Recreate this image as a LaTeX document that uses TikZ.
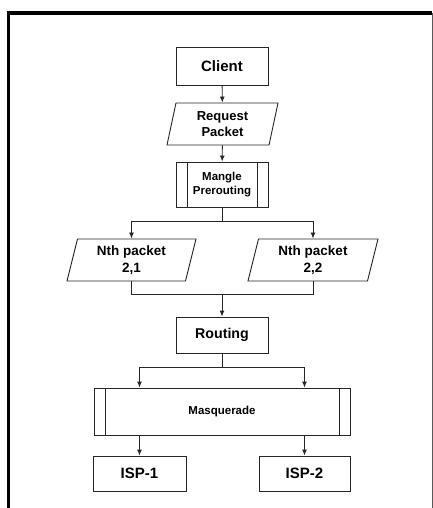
\documentclass[tikz,border=0pt]{standalone}
\usepackage{fontspec}
\setmainfont{Liberation Sans}
\usetikzlibrary{shapes.geometric, arrows.meta}

\begin{document}
\begin{tikzpicture}[x=1pt, y=-1pt,
  line width=0.9pt, draw=black!85,
  proc/.style={draw, rectangle, inner sep=0pt, align=center},
  subproc/.style={proc, path picture={
      \draw ([xshift=11pt]path picture bounding box.north west) -- ([xshift=11pt]path picture bounding box.south west);
      \draw ([xshift=-11pt]path picture bounding box.north east) -- ([xshift=-11pt]path picture bounding box.south east);}},
  data/.style={draw, trapezium, trapezium left angle=70, trapezium right angle=110,
    trapezium stretches body, inner sep=0pt, align=center},
  arr/.style={-{Latex[length=6pt, width=5pt]}}]
  \useasboundingbox (0, 0) rectangle (433, 508);

  % outer frame
  \draw[black, line width=3.5pt] (8.5, 508) -- (8.5, 13) -- (432, 13);
  \draw[black!65, line width=1pt] (432, 13) -- (432, 508);

  \node (client) at (222, 66) [proc, minimum width=92pt, minimum height=38pt, font=\bfseries\fontsize{15}{18}\selectfont] {Client};
  \node (req) at (222.5, 124) [data, minimum width=111pt, minimum height=42pt, font=\bfseries\fontsize{13}{15.6}\selectfont] {Request\\Packet};
  \node (mangle) at (222, 184.5) [subproc, minimum width=92pt, minimum height=45pt, font=\bfseries\fontsize{11.5}{14.5}\selectfont] {Mangle\\Prerouting};
  \node (nth1) at (131.5, 260) [data, minimum width=129pt, minimum height=42pt, font=\bfseries\fontsize{13.5}{17}\selectfont] {Nth packet\\2,1};
  \node (nth2) at (313, 260) [data, minimum width=130pt, minimum height=42pt, font=\bfseries\fontsize{13.5}{17}\selectfont] {Nth packet\\2,2};
  \node (routing) at (222, 335) [proc, minimum width=92pt, minimum height=36pt, font=\bfseries\fontsize{14.2}{17}\selectfont] {Routing};
  \node (masq) at (222, 411.5) [subproc, minimum width=256pt, minimum height=47pt, font=\bfseries\fontsize{11.5}{14}\selectfont] {Masquerade};
  \node (isp1) at (139.5, 473.5) [proc, minimum width=93pt, minimum height=35pt, font=\bfseries\fontsize{15}{18}\selectfont] {ISP-1};
  \node (isp2) at (304.5, 473.5) [proc, minimum width=91pt, minimum height=35pt, font=\bfseries\fontsize{15}{18}\selectfont] {ISP-2};

  \coordinate (split1) at (222, 221);
  \coordinate (join1) at (222, 294);
  \coordinate (split2) at (222, 367);

  \draw[arr] (client) -- (req);
  \draw[arr] (req) -- (mangle);
  \draw (mangle) -- (split1);
  \draw[arr] (split1) -| (nth1.center |- nth1.north);
  \draw[arr] (split1) -| (nth2.center |- nth2.north);
  \draw (nth1.center |- nth1.south) |- (join1);
  \draw (nth2.center |- nth2.south) |- (join1);
  \draw[arr] (join1) -- (routing);
  \draw (routing) -- (split2);
  \draw[arr] (split2) -| (isp1 |- masq.north);
  \draw[arr] (split2) -| (isp2 |- masq.north);
  \draw[arr] (isp1 |- masq.south) -- (isp1);
  \draw[arr] (isp2 |- masq.south) -- (isp2);
\end{tikzpicture}
\end{document}
